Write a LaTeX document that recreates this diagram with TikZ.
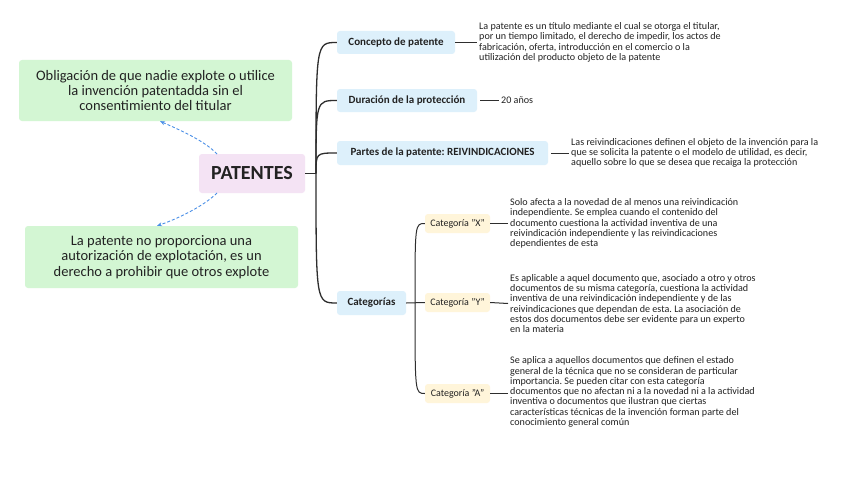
\documentclass[tikz,border=0pt]{standalone}
\usepackage{fontspec}
\setmainfont{Carlito}
\frenchspacing
\usetikzlibrary{arrows.meta}
\definecolor{pinkf}{HTML}{F4E3F4}
\definecolor{greenf}{HTML}{D3F6D3}
\definecolor{bluef}{HTML}{DDF0FB}
\definecolor{yellowf}{HTML}{FFF5DA}
\definecolor{linec}{HTML}{2E2E2E}
\definecolor{arrowc}{HTML}{4A8FE7}
\definecolor{txt}{HTML}{222222}
\tikzset{
  box/.style={rounded corners=3pt, inner sep=0pt, align=center, text=txt},
  rootbox/.style={box, fill=pinkf, font=\fontsize{20}{22}\selectfont\bfseries},
  notebox/.style={box, fill=greenf, font=\fontsize{14.5}{15.2}\selectfont},
  branchbox/.style={box, fill=bluef, font=\fontsize{11}{13}\selectfont\bfseries},
  catbox/.style={box, fill=yellowf, font=\fontsize{10}{11}\selectfont},
  desc/.style={anchor=west, align=left, inner sep=2pt, text=txt, font=\fontsize{10.1}{10.3}\selectfont},
  trunk/.style={draw=linec, line width=1.3pt},
  leaf/.style={draw=linec, line width=1pt},
  rel/.style={draw=arrowc, line width=0.9pt, dash pattern=on 3pt off 2pt, -{Stealth[length=5pt,width=4pt]}}
}
\begin{document}
\begin{tikzpicture}[x=1pt,y=-1pt]
\useasboundingbox (0,0) rectangle (848,487);
\fill[white] (0,0) rectangle (848,487);

% root
\node[rootbox, minimum width=106pt, minimum height=39pt] (P) at (252,173.5) {PATENTES};

% green notes
\node[notebox, minimum width=273pt, minimum height=61pt] (G1) at (155.5,90.5)
  {Obligación de que nadie explote o utilice\\la invención patentadda sin el\\consentimiento del titular};
\node[notebox, minimum width=273pt, minimum height=62pt] (G2) at (161.5,257)
  {La patente no proporciona una\\autorización de explotación, es un\\derecho a prohibir que otros explote};

% branches
\node[branchbox, minimum width=118pt, minimum height=23pt] (B1) at (396,42.5) {Concepto de patente};
\node[branchbox, minimum width=140pt, minimum height=23pt] (B2) at (407,100.5) {Duración de la protección};
\node[branchbox, minimum width=211pt, minimum height=24pt] (B3) at (442.5,153) {Partes de la patente: REIVINDICACIONES};
\node[branchbox, minimum width=69pt, minimum height=24pt] (B4) at (371.5,303) {Categorías};

% categories
\node[catbox, minimum width=65pt, minimum height=19pt] (CX) at (457.5,223.5) {Categoría "X"};
\node[catbox, minimum width=65pt, minimum height=19pt] (CY) at (457.5,302.5) {Categoría "Y"};
\node[catbox, minimum width=65pt, minimum height=19pt] (CA) at (457.5,393.5) {Categoría "A"};

% descriptions
\node[desc] (D1) at (477,42.5) {La patente es un título mediante el cual se otorga el titular,\\por un tiempo limitado, el derecho de impedir, los actos de\\fabricación, oferta, introducción en el comercio o la\\utilización del producto objeto de la patente};
\node[desc] (D2) at (499,100.5) {20 años};
\node[desc] (D3) at (569,153) {Las reivindicaciones definen el objeto de la invención para la\\que se solicita la patente o el modelo de utilidad, es decir,\\aquello sobre lo que se desea que recaiga la protección};
\node[desc] (DX) at (508,223.5) {Solo afecta a la novedad de al menos una reivindicación\\independiente. Se emplea cuando el contenido del\\documento cuestiona la actividad inventiva de una\\reivindicación independiente y las reivindicaciones\\dependientes de esta};
\node[desc] (DY) at (508,303.5) {Es aplicable a aquel documento que, asociado a otro y otros\\documentos de su misma categoría, cuestiona la actividad\\inventiva de una reivindicación independiente y de las\\reivindicaciones que dependan de esta. La asociación de\\estos dos documentos debe ser evidente para un experto\\en la materia};
\node[desc] (DA) at (508,392) {Se aplica a aquellos documentos que definen el estado\\general de la técnica que no se consideran de particular\\importancia. Se pueden citar con esta categoría\\documentos que no afectan ni a la novedad ni a la actividad\\inventiva o documentos que ilustran que ciertas\\características técnicas de la invención forman parte del\\conocimiento general común};

% trunk
\coordinate (J) at (316,173.5);
\draw[trunk] (P.east) -- (J);
\draw[trunk] (J) .. controls (316,42.5) and (316,42.5) .. (B1.west);
\draw[trunk] (J) .. controls (316,100.5) and (316,100.5) .. (B2.west);
\draw[trunk] (J) .. controls (316,153) and (316,153) .. (B3.west);
\draw[trunk] (J) .. controls (316,303) and (316,303) .. (B4.west);

% sub trunk
\coordinate (K) at (415,303);
\draw[leaf] (B4.east) -- (CY.west);
\draw[leaf] (K) .. controls (415,223.5) and (415,223.5) .. (CX.west);
\draw[leaf] (K) .. controls (415,393.5) and (415,393.5) .. (CA.west);

% leaf lines
\draw[leaf] (B1.east) -- (D1.west);
\draw[leaf] (B2.east) ++(3,0) -- (D2.west);
\draw[leaf] (B3.east) ++(3,0) -- (D3.west);
\draw[leaf] (CX.east) -- (DX.west);
\draw[leaf] (CY.east) -- (DY.west);
\draw[leaf] (CA.east) -- (DA.west |- CA.east);

% relations
\coordinate (R1) at (217,154);
\coordinate (R2) at (217,193);
\draw[rel] (R1) .. controls (205,141) and (180,130) .. (G1.south -| 160,0);
\draw[rel] (R2) .. controls (205,205) and (180,218) .. (G2.north -| 157,0);
\end{tikzpicture}
\end{document}
